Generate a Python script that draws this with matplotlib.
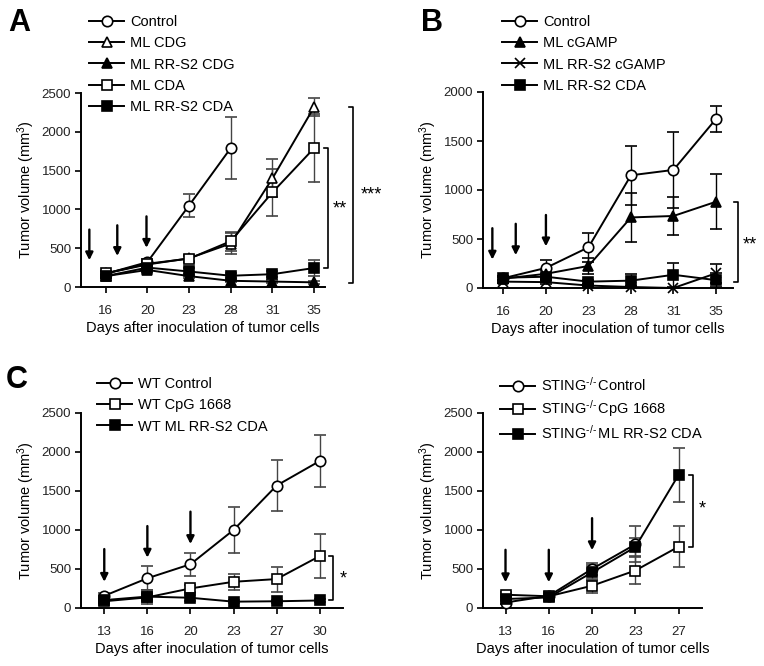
import numpy as np
import matplotlib.pyplot as plt
from matplotlib.lines import Line2D

plt.rcParams['font.family'] = ['Liberation Sans', 'DejaVu Sans']
plt.rcParams['mathtext.fontset'] = 'custom'
plt.rcParams['mathtext.rm'] = 'Liberation Sans'
plt.rcParams['mathtext.it'] = 'Liberation Sans:italic'

W, H = 764, 666

# ---- panel A ----
days_a = ['16', '20', '23', '28', '31', '35']
labels_a = ['Control', 'ML CDG', 'ML RR-S2 CDG', 'ML CDA', 'ML RR-S2 CDA']
a_control = [170, 320, 1050, 1790, np.nan, np.nan]
a_control_err = [35, 40, 150, 395, np.nan, np.nan]
a_cdg = [175, 290, 370, 560, 1400, 2320]
a_cdg_err = [30, 40, 40, 130, 245, 120]
a_rr_cdg = [140, 220, 140, 80, 70, 60]
a_rr_cdg_err = [20, 30, 30, 20, 20, 15]
a_cda = [175, 300, 365, 590, 1220, 1790]
a_cda_err = [30, 40, 40, 120, 300, 440]
a_rr_cda = [140, 250, 200, 145, 165, 245]
a_rr_cda_err = [20, 30, 40, 30, 40, 100]

# ---- panel B ----
days_b = ['16', '20', '23', '28', '31', '35']
labels_b = ['Control', 'ML cGAMP', 'ML RR-S2 cGAMP', 'ML RR-S2 CDA']
b_control = [100, 205, 415, 1150, 1205, 1725]
b_control_err = [20, 80, 145, 300, 385, 130]
b_cgamp = [95, 145, 225, 720, 735, 880]
b_cgamp_err = [20, 40, 80, 250, 190, 280]
b_rr_cgamp = [65, 60, 25, 10, 0, 150]
b_rr_cgamp_err = [15, 20, 15, 10, 5, 100]
b_rr_cda = [105, 115, 65, 75, 135, 80]
b_rr_cda_err = [20, 30, 20, 65, 125, 70]

# ---- panel C (WT) ----
days_c = ['13', '16', '20', '23', '27', '30']
labels_c = ['WT Control', 'WT CpG 1668', 'WT ML RR-S2 CDA']
c_control = [150, 375, 555, 995, 1565, 1880]
c_control_err = [30, 155, 150, 290, 330, 335]
c_cpg = [80, 130, 245, 330, 365, 660]
c_cpg_err = [20, 40, 50, 100, 160, 280]
c_rr_cda = [95, 140, 125, 75, 80, 90]
c_rr_cda_err = [15, 90, 40, 15, 20, 20]

# ---- panel C (STING-/-) ----
days_d = ['13', '16', '20', '23', '27']
labels_d = [r'STING$^{\text{-/-}}\,$Control', r'STING$^{\text{-/-}}\,$CpG 1668',
            r'STING$^{\text{-/-}}\,$ML RR-S2 CDA']
d_control = [70, 155, 500, 815, np.nan]
d_control_err = [15, 20, 80, 230, np.nan]
d_cpg = [170, 150, 285, 480, 785]
d_cpg_err = [30, 20, 90, 175, 265]
d_rr_cda = [115, 135, 455, 780, 1705]
d_rr_cda_err = [20, 20, 100, 110, 345]

# marker style per symbol
STYLES = {
    'o_open': dict(marker='o', mfc='white'),
    '^_open': dict(marker='^', mfc='white'),
    '^_fill': dict(marker='^', mfc='black'),
    's_open': dict(marker='s', mfc='white'),
    's_fill': dict(marker='s', mfc='black'),
    'x': dict(marker='x', mfc='black'),
}
MS = 7.5


def px_axes(fig, left, right, top, bottom):
    return fig.add_axes([left / W, 1 - bottom / H, (right - left) / W, (bottom - top) / H])


def plot_series(ax, means, errs, style, ecolor):
    ind = np.arange(len(means))
    ax.errorbar(ind, means, yerr=errs, color='black', lw=1.4, ecolor=ecolor,
                elinewidth=1.0, capsize=4, capthick=1.0, ms=MS, mec='black',
                mew=1.2, clip_on=False, zorder=3, **STYLES[style])


def style_axes(ax, days, ylim, yticks, xlim):
    ax.set_xlim(*xlim)
    ax.set_ylim(*ylim)
    ax.set_xticks(np.arange(len(days)))
    ax.set_xticklabels(days)
    ax.set_yticks(yticks)
    for s in ['top', 'right']:
        ax.spines[s].set_visible(False)
    for s in ['left', 'bottom']:
        ax.spines[s].set_linewidth(1.4)
    ax.tick_params(direction='out', length=4, width=1.4, labelsize=9.5,
                   colors='#222222', pad=3)
    ax.tick_params(axis='x', pad=9)
    ax.set_xlabel('Days after inoculation of tumor cells', fontsize=10.5, labelpad=3)
    ax.set_ylabel('Tumor volume (mm$^3$)', fontsize=10.5, labelpad=3)


def arrows(ax, xs, tops, bottoms):
    for x, t, b in zip(xs, tops, bottoms):
        ax.annotate('', xy=(x, b), xytext=(x, t),
                    arrowprops=dict(arrowstyle='-|>', lw=1.7, color='black',
                                    mutation_scale=11, shrinkA=0, shrinkB=0),
                    annotation_clip=False)


def bracket(ax, x, y1, y2, text, tx, ty, serif=0.1):
    ax.plot([x - serif, x, x, x - serif], [y1, y1, y2, y2], color='black',
            lw=1.2, clip_on=False)
    ax.text(tx, ty, text, fontsize=13, ha='center', va='center')


def legend(ax, styles, labels, x, y, spacing=0.5):
    handles = [Line2D([], [], color='black', lw=1.4, ms=MS, mec='black', mew=1.2,
                      **STYLES[st]) for st in styles]
    ax.legend(handles, labels, loc='upper left', bbox_to_anchor=(x / W, 1 - y / H),
              bbox_transform=ax.figure.transFigure, frameon=False, fontsize=10.5,
              handlelength=2.4, handletextpad=0.4, labelspacing=spacing,
              borderpad=0, borderaxespad=0)


fig = plt.figure(figsize=(W / 100, H / 100), dpi=100)

# A
ax = px_axes(fig, 81, 325, 93, 287)
series = [(a_control, a_control_err, 'o_open'), (a_cdg, a_cdg_err, '^_open'),
          (a_rr_cdg, a_rr_cdg_err, '^_fill'), (a_cda, a_cda_err, 's_open'),
          (a_rr_cda, a_rr_cda_err, 's_fill')]
for m, e, st in series:
    plot_series(ax, m, e, st, '#444444')
style_axes(ax, days_a, (0, 2500), range(0, 2501, 500), (-0.59, 5.26))
arrows(ax, [-0.39, 0.28, 0.98], [740, 795, 910], [345, 400, 505])
bracket(ax, 5.33, a_cda[-1], a_rr_cda[-1], '**', 5.62, 1000)
bracket(ax, 5.93, a_cdg[-1], 50, '***', 6.38, 1190)
legend(ax, [s[2] for s in series], labels_a, 89, 15)

# B
ax = px_axes(fig, 483, 733, 92, 288)
series = [(b_control, b_control_err, 'o_open'), (b_cgamp, b_cgamp_err, '^_fill'),
          (b_rr_cgamp, b_rr_cgamp_err, 'x'), (b_rr_cda, b_rr_cda_err, 's_fill')]
for m, e, st in series:
    plot_series(ax, m, e, st, 'black')
style_axes(ax, days_b, (0, 2000), range(0, 2001, 500), (-0.48, 5.4))
arrows(ax, [-0.26, 0.29, 1.0], [610, 655, 745], [290, 335, 425])
bracket(ax, 5.52, b_cgamp[-1], 58, '**', 5.8, 440)
legend(ax, [s[2] for s in series], labels_b, 502, 15)

# C WT
ax = px_axes(fig, 81, 343, 412.7, 607.5)
series = [(c_control, c_control_err, 'o_open'), (c_cpg, c_cpg_err, 's_open'),
          (c_rr_cda, c_rr_cda_err, 's_fill')]
for m, e, st in series:
    plot_series(ax, m, e, st, '#444444')
style_axes(ax, days_c, (0, 2500), range(0, 2501, 500), (-0.54, 5.54))
arrows(ax, [0, 1, 2], [750, 1045, 1230], [330, 640, 815])
bracket(ax, 5.31, c_cpg[-1], c_rr_cda[-1], '*', 5.55, 370)
legend(ax, [s[2] for s in series], labels_c, 97, 377)

# C STING-/-
ax = px_axes(fig, 483, 702, 412.7, 608)
series = [(d_control, d_control_err, 'o_open'), (d_cpg, d_cpg_err, 's_open'),
          (d_rr_cda, d_rr_cda_err, 's_fill')]
for m, e, st in series:
    plot_series(ax, m, e, st, '#444444')
style_axes(ax, days_d, (0, 2500), range(0, 2501, 500), (-0.52, 4.54))
arrows(ax, [0, 1, 2], [745, 745, 1150], [330, 330, 740])
bracket(ax, 4.34, d_rr_cda[-1], d_cpg[-1], '*', 4.55, 1270)
legend(ax, [s[2] for s in series], labels_d, 500, 376, spacing=0.32)

for letter, x, y in [('A', 8, 8), ('B', 421, 8), ('C', 6, 365)]:
    fig.text(x / W, 1 - y / H, letter, fontsize=22, fontweight='bold', va='top')

fig.savefig('out.png', dpi=100)
